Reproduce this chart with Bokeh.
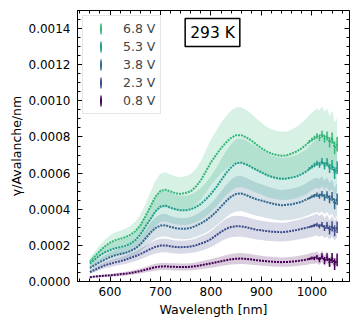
import numpy as np
from bokeh.plotting import figure
from bokeh.models import (Range1d, SingleIntervalTicker, LinearAxis, NumeralTickFormatter,
                          Legend, LegendItem, Label, CustomJSTickFormatter)
from bokeh.embed import file_html
from bokeh.resources import INLINE

# ---------------- data ----------------
wavelength = [560, 570, 580, 590, 600, 610, 620, 630, 640, 650,
              660, 670, 680, 690, 700, 710, 720, 730, 740, 750,
              760, 770, 780, 790, 800, 810, 820, 830, 840, 850,
              860, 870, 880, 890, 900, 910, 920, 930, 940, 950,
              960, 970, 980, 990,
              995, 1000, 1005, 1010, 1015, 1020, 1025, 1030, 1035, 1040, 1045, 1050]

# values in units of 1e-4 photons / avalanche / nm
v_68 = [1.10, 1.40, 1.70, 1.95, 2.15, 2.28, 2.36, 2.45, 2.58, 2.78,
        3.10, 3.60, 4.15, 4.70, 5.02, 5.08, 4.98, 4.88, 4.85, 4.90,
        5.00, 5.25, 5.60, 6.10, 6.60, 7.00, 7.38, 7.70, 7.95, 8.10,
        8.10, 7.98, 7.80, 7.58, 7.38, 7.20, 7.08, 7.00, 6.96, 6.98,
        7.08, 7.20, 7.38, 7.60,
        7.75, 7.85, 7.95, 8.05, 7.95, 8.15, 7.90, 8.05, 7.70, 7.95, 7.40, 7.60]
v_53 = [1.00, 1.22, 1.45, 1.62, 1.74, 1.84, 1.90, 1.97, 2.08, 2.28,
        2.60, 3.05, 3.45, 3.88, 4.15, 4.20, 4.08, 3.99, 3.94, 3.94,
        4.00, 4.12, 4.30, 4.55, 4.85, 5.20, 5.60, 6.00, 6.32, 6.55,
        6.57, 6.48, 6.33, 6.18, 6.05, 5.90, 5.80, 5.72, 5.68, 5.70,
        5.75, 5.82, 5.95, 6.10,
        6.25, 6.35, 6.45, 6.55, 6.45, 6.65, 6.40, 6.60, 6.25, 6.45, 6.00, 6.30]
v_38 = [0.75, 0.92, 1.08, 1.22, 1.35, 1.45, 1.52, 1.58, 1.68, 1.83,
        2.05, 2.38, 2.70, 2.96, 3.10, 3.11, 3.02, 2.95, 2.92, 2.92,
        2.97, 3.08, 3.22, 3.38, 3.60, 3.85, 4.15, 4.45, 4.70, 4.85,
        4.87, 4.78, 4.66, 4.55, 4.48, 4.40, 4.33, 4.26, 4.22, 4.24,
        4.28, 4.34, 4.42, 4.55,
        4.62, 4.70, 4.75, 4.80, 4.72, 4.85, 4.65, 4.80, 4.55, 4.70, 4.30, 4.55]
v_23 = [0.52, 0.65, 0.78, 0.90, 0.98, 1.06, 1.12, 1.20, 1.30, 1.40,
        1.52, 1.66, 1.80, 1.92, 1.99, 2.00, 1.95, 1.91, 1.90, 1.91,
        1.94, 2.00, 2.10, 2.20, 2.35, 2.55, 2.75, 2.92, 3.02, 3.06,
        3.05, 3.00, 2.93, 2.87, 2.83, 2.79, 2.76, 2.74, 2.73, 2.75,
        2.80, 2.85, 2.92, 2.98,
        3.02, 3.06, 3.10, 3.15, 3.05, 3.15, 2.95, 3.10, 2.85, 3.05, 2.80, 3.00]
v_08 = [0.24, 0.27, 0.30, 0.32, 0.34, 0.37, 0.40, 0.43, 0.47, 0.52,
        0.58, 0.65, 0.72, 0.79, 0.83, 0.84, 0.82, 0.81, 0.80, 0.80,
        0.82, 0.85, 0.90, 0.95, 1.00, 1.06, 1.12, 1.18, 1.23, 1.26,
        1.27, 1.25, 1.22, 1.18, 1.15, 1.12, 1.10, 1.08, 1.07, 1.08,
        1.10, 1.13, 1.17, 1.22,
        1.25, 1.30, 1.28, 1.35, 1.20, 1.40, 1.15, 1.35, 1.05, 1.30, 0.95, 1.20]

# statistical error bars on the last 12 points (995-1050 nm), units of 1e-4
tail_err_68 = [0.08, 0.10, 0.12, 0.15, 0.18, 0.20, 0.22, 0.25, 0.28, 0.30, 0.35, 0.40]
tail_err_53 = [0.08, 0.10, 0.12, 0.14, 0.16, 0.18, 0.20, 0.22, 0.25, 0.28, 0.32, 0.36]
tail_err_38 = [0.06, 0.08, 0.10, 0.12, 0.14, 0.16, 0.18, 0.20, 0.22, 0.25, 0.30, 0.32]
tail_err_23 = [0.05, 0.07, 0.09, 0.10, 0.12, 0.14, 0.16, 0.20, 0.25, 0.28, 0.30, 0.32]
tail_err_08 = [0.06, 0.08, 0.10, 0.12, 0.14, 0.16, 0.20, 0.22, 0.25, 0.28, 0.32, 0.35]

# relative systematic uncertainty (shaded band) per voltage
band_frac = [0.19, 0.205, 0.20, 0.19, 0.24]

labels = ["6.8 V", "5.3 V", "3.8 V", "2.3 V", "0.8 V"]
colors = ["#35b779", "#1f9e89", "#31688e", "#3e4a89", "#440154"]
values = [v_68, v_53, v_38, v_23, v_08]
tail_errs = [tail_err_68, tail_err_53, tail_err_38, tail_err_23, tail_err_08]

x_lim = (535.5, 1074.5)
y_lim = (0, 0.0015)
x_ticks_interval = 100
y_ticks_interval = 0.0002

# ---------------- figure ----------------
FONT = "DejaVu Sans"
p = figure(width=360, height=326, output_backend="svg", toolbar_location=None,
           x_range=Range1d(*x_lim), y_range=Range1d(*y_lim),
           min_border_left=77, min_border_right=11, min_border_top=10, min_border_bottom=45,
           x_axis_label="Wavelength [nm]", y_axis_label="γ/Avalanche/nm")
p.xgrid.visible = False
p.ygrid.visible = False
p.outline_line_color = "black"
p.outline_line_width = 1
p.background_fill_color = "white"

xt = SingleIntervalTicker(interval=x_ticks_interval, num_minor_ticks=5)
yt = SingleIntervalTicker(interval=y_ticks_interval, num_minor_ticks=4)

def style_axis(ax):
    ax.major_tick_in = 5
    ax.major_tick_out = 0
    ax.minor_tick_in = 3
    ax.minor_tick_out = 0
    ax.axis_line_color = "black"
    ax.major_tick_line_color = "black"
    ax.minor_tick_line_color = "black"
    ax.major_label_text_font = FONT
    ax.major_label_text_font_size = "12px"
    ax.major_label_text_color = "black"
    ax.axis_label_text_font = FONT
    ax.axis_label_text_font_size = "12.5px"
    ax.axis_label_text_font_style = "normal"
    ax.axis_label_text_color = "black"

p.xaxis.ticker = xt
p.yaxis.ticker = yt
p.yaxis.formatter = NumeralTickFormatter(format="0.0000")
style_axis(p.xaxis[0])
style_axis(p.yaxis[0])
p.xaxis.major_label_standoff = 5
p.yaxis.major_label_standoff = 7
p.xaxis.axis_label_standoff = 3
p.yaxis.axis_label_standoff = 2

# mirrored tick marks on top and right (no labels), pinned to the frame edges
for loc, tick, fixed in (("above", xt, y_lim[1]), ("right", yt, x_lim[1])):
    ax = LinearAxis(ticker=tick, formatter=CustomJSTickFormatter(code="return ''"),
                    fixed_location=fixed)
    style_axis(ax)
    ax.major_label_standoff = 0
    p.add_layout(ax, loc)

wl = np.array(wavelength, dtype=float)
scale = 1e-4
n_tail = len(tail_err_68)

# bands (drawn first)
for vals, frac, col in reversed(list(zip(values, band_frac, colors))):
    v = np.array(vals) * scale
    p.varea(x=wl, y1=v * (1 - frac), y2=v * (1 + frac), fill_color=col, fill_alpha=0.2)

legend_items = []
for vals, terr, col, lab in reversed(list(zip(values, tail_errs, colors, labels))):
    v = np.array(vals) * scale
    e = np.array(terr) * scale
    p.line(wl, v, line_color=col, line_width=2, line_dash="2 1")
    p.segment(x0=wl[-n_tail:], y0=v[-n_tail:] - e, x1=wl[-n_tail:], y1=v[-n_tail:] + e,
              line_color=col, line_width=1.5)
    # legend proxy (placed off-range so only the legend shows it)
    r = p.ellipse(x=[wl[0]], y=[-1.0], width=2, height=12,
                  width_units="screen", height_units="screen",
                  fill_color=col, line_color=None)
    legend_items.append(LegendItem(label=lab, renderers=[r]))

legend = Legend(items=list(reversed(legend_items)), location="top_left",
                margin=5, padding=5, spacing=3, label_standoff=10,
                glyph_width=25, glyph_height=15, label_height=15,
                label_text_font=FONT, label_text_font_size="12.5px",
                border_line_color="#cccccc", border_line_width=1,
                background_fill_color="white", background_fill_alpha=0.85)
p.add_layout(legend)

temp = Label(x=803, y=0.001378, text="293 K", text_align="center", text_baseline="middle",
             text_font=FONT, text_font_size="15.5px", text_color="black",
             border_line_color="black", border_line_width=1.5,
             background_fill_color="white", padding=5)
p.add_layout(temp)

open("out.html", "w").write(file_html(p, INLINE))
